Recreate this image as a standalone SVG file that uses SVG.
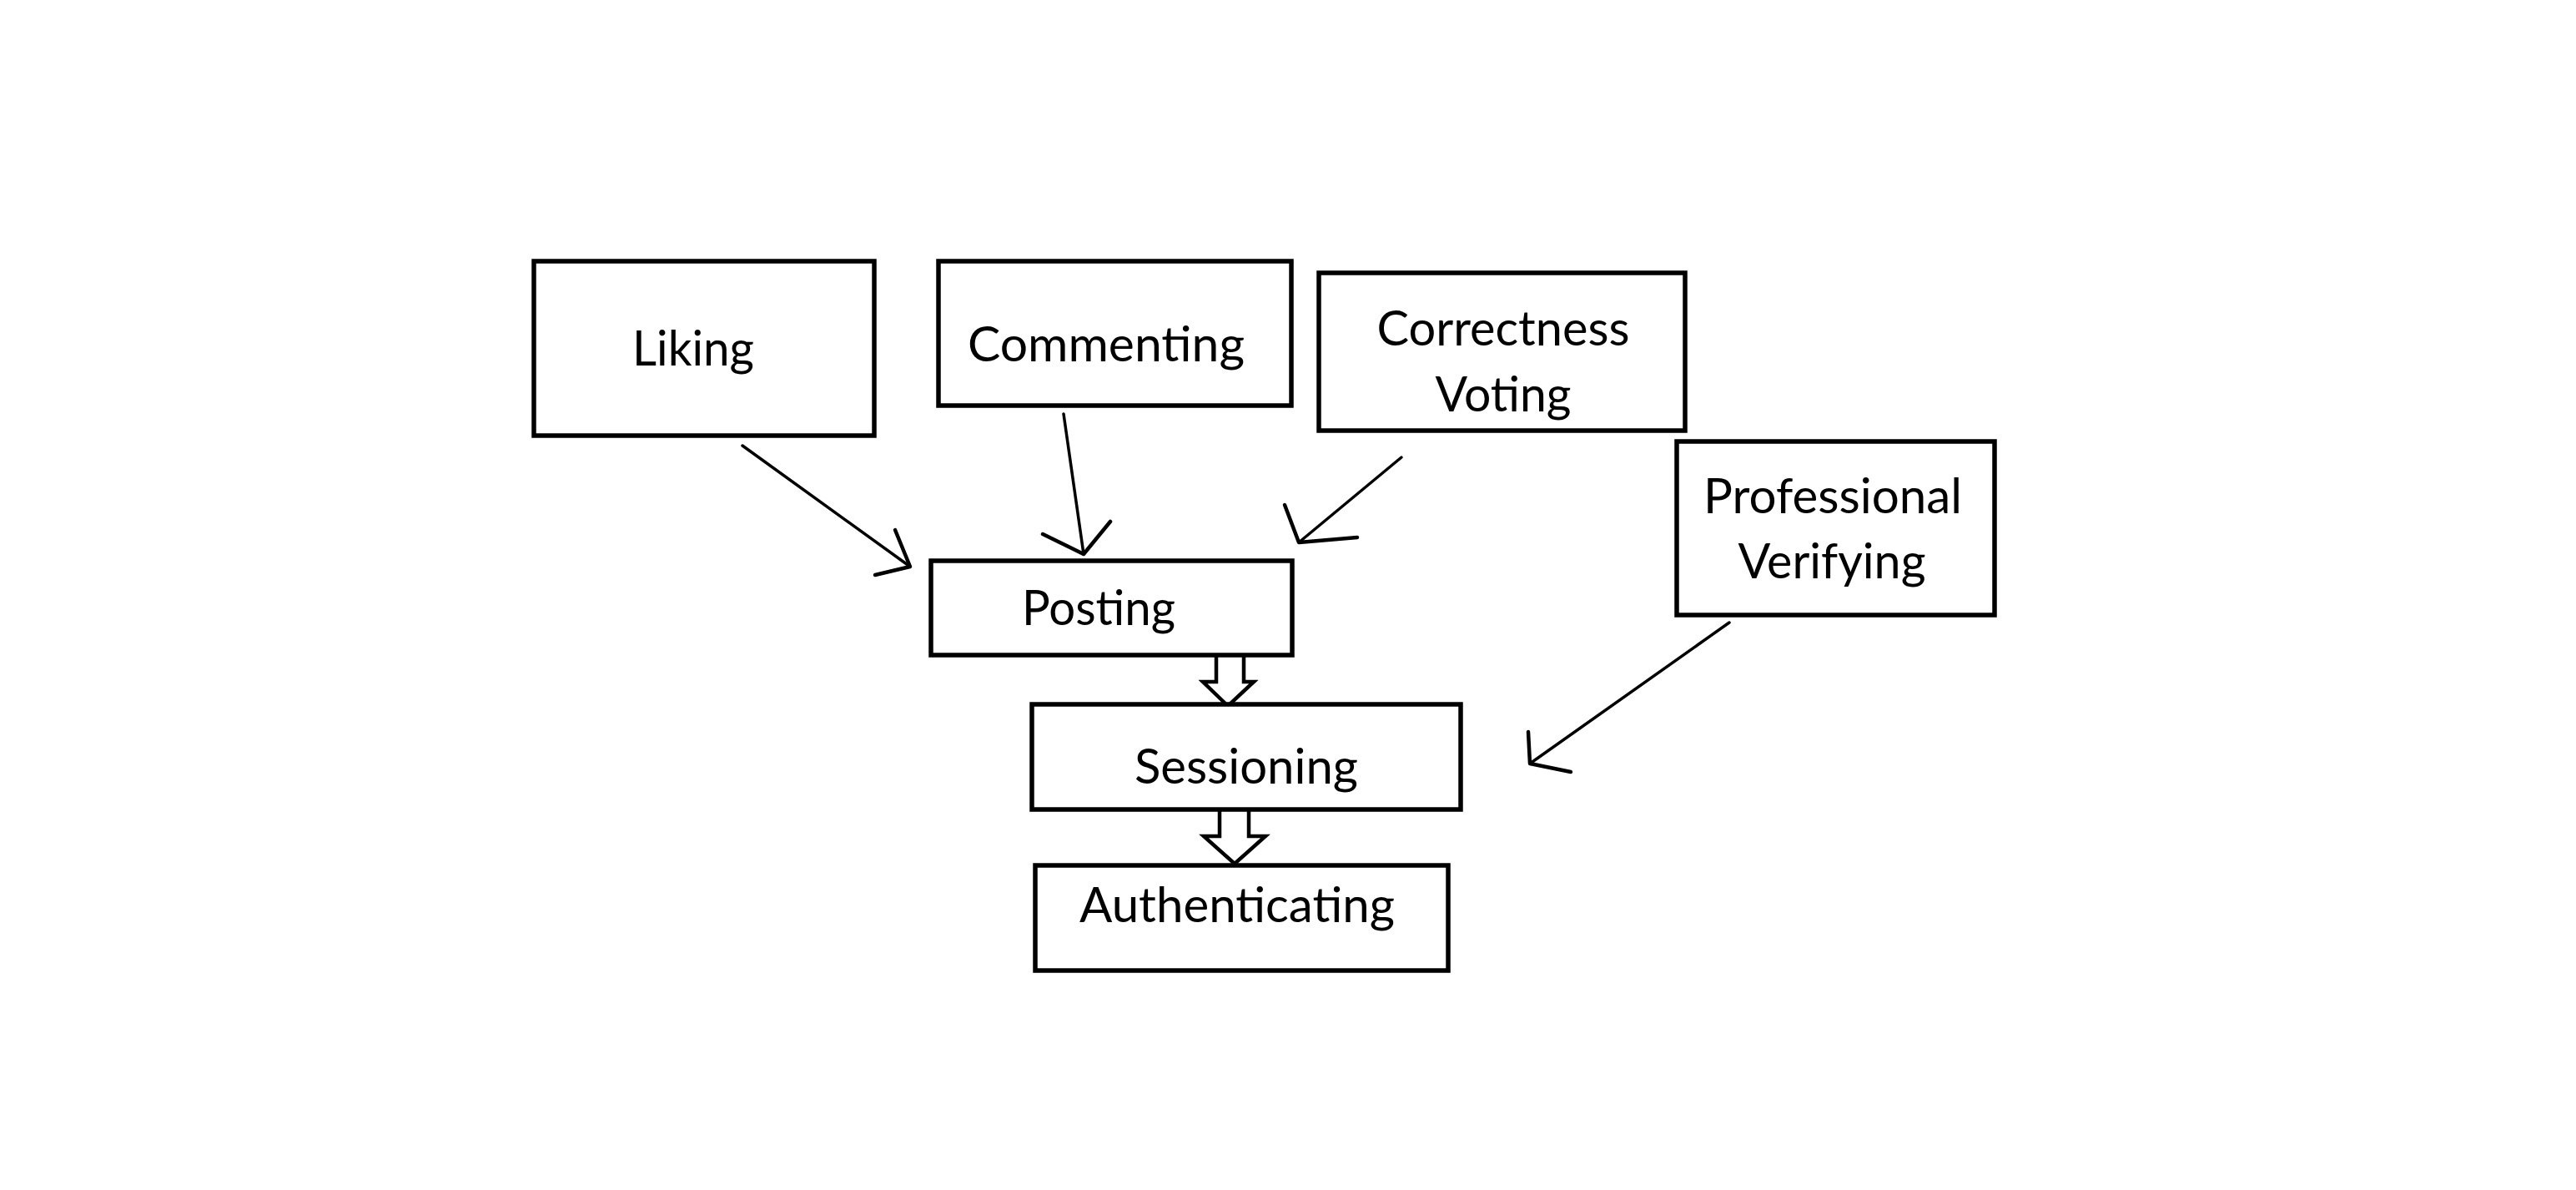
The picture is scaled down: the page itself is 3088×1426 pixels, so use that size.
<svg xmlns="http://www.w3.org/2000/svg" width="3088" height="1426" viewBox="0 0 3088 1426">
<style>
.box{fill:#fff;stroke:#000;stroke-width:5.5}
.lbl{font-family:Lato,"Open Sans","Liberation Sans",sans-serif;font-size:58px;fill:#000;text-anchor:middle}
.ln{fill:none;stroke:#000;stroke-width:3.5;stroke-linecap:round}
.barb{fill:none;stroke:#000;stroke-width:4.5;stroke-linecap:round;stroke-linejoin:round}
.blk{fill:#fff;stroke:#000;stroke-width:4.5;stroke-linejoin:miter}
</style>
<rect width="3088" height="1426" fill="#fff"/>
<g id="connectors">
<line class="ln" x1="890" y1="534" x2="1091" y2="679"/>
<polyline class="barb" points="1073,635 1091,679 1049,689"/>
<line class="ln" x1="1275" y1="496" x2="1299" y2="664"/>
<polyline class="barb" points="1250,640 1299,664 1331,625"/>
<line class="ln" x1="1680" y1="548" x2="1557" y2="650"/>
<polyline class="barb" points="1540,605 1557,650 1627,644"/>
<line class="ln" x1="2073" y1="746" x2="1834" y2="915"/>
<polyline class="barb" points="1832,877 1834,915 1883,925"/>
<path class="blk" d="M1458,786 L1458,817 L1442,817 L1472,846 L1503,817 L1491,817 L1491,786"/>
<path class="blk" d="M1462,971 L1462,1002 L1443,1002 L1480,1035 L1517,1002 L1497,1002 L1497,971"/>
</g>
<g id="liking"><rect class="box" x="640" y="313" width="408" height="209"/><text class="lbl" x="831" y="438" textLength="146" lengthAdjust="spacingAndGlyphs">Liking</text></g>
<g id="commenting"><rect class="box" x="1125" y="313" width="423" height="173"/><text class="lbl" x="1326" y="433" textLength="332" lengthAdjust="spacingAndGlyphs">Commenting</text></g>
<g id="correctness-voting"><rect class="box" x="1581" y="327" width="439" height="189"/><text class="lbl" x="1802" y="414" textLength="303" lengthAdjust="spacingAndGlyphs">Correctness</text><text class="lbl" x="1802" y="493" textLength="163" lengthAdjust="spacingAndGlyphs">Voting</text></g>
<g id="professional-verifying"><rect class="box" x="2010" y="529" width="381" height="208"/><text class="lbl" x="2197" y="615" textLength="310" lengthAdjust="spacingAndGlyphs">Professional</text><text class="lbl" x="2196" y="693" textLength="225" lengthAdjust="spacingAndGlyphs">Verifying</text></g>
<g id="posting"><rect class="box" x="1116" y="672" width="433" height="113"/><text class="lbl" x="1317" y="749" textLength="184" lengthAdjust="spacingAndGlyphs">Posting</text></g>
<g id="sessioning"><rect class="box" x="1237" y="844" width="514" height="126"/><text class="lbl" x="1494" y="939" textLength="268" lengthAdjust="spacingAndGlyphs">Sessioning</text></g>
<g id="authenticating"><rect class="box" x="1241" y="1037" width="495" height="126"/><text class="lbl" x="1483" y="1105" textLength="378" lengthAdjust="spacingAndGlyphs">Authenticating</text></g>
</svg>
